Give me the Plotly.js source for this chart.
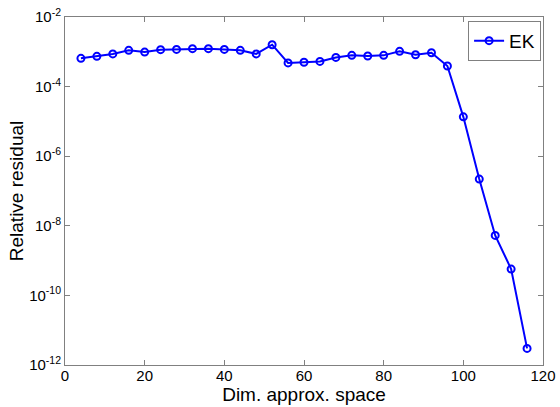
<!DOCTYPE html>
<html>
<head>
<meta charset="utf-8">
<script src="https://cdn.plot.ly/plotly-3.0.1.min.js"></script>
<style>html,body{margin:0;padding:0;background:#fff;}#chart{width:560px;height:407px;}</style>
</head>
<body>
<div id="chart"></div>
<script>
var dims = [4, 8, 12, 16, 20, 24, 28, 32, 36, 40, 44, 48, 52, 56, 60, 64, 68, 72, 76, 80, 84, 88, 92, 96, 100, 104, 108, 112, 116];
var residualEK = [6.5e-4, 7.4e-4, 8.7e-4, 1.1e-3, 9.8e-4, 1.15e-3, 1.17e-3, 1.23e-3, 1.23e-3, 1.17e-3, 1.1e-3, 8.7e-4, 1.6e-3,
  4.8e-4, 5.0e-4, 5.3e-4, 6.9e-4, 7.9e-4, 7.6e-4, 7.9e-4, 1.03e-3, 8.2e-4, 9.4e-4, 3.9e-4, 1.35e-5, 2.2e-7, 5.3e-9, 5.7e-10, 3.0e-12];
var yTickVals = [1e-12, 1e-10, 1e-8, 1e-6, 1e-4, 1e-2];
var yTickText = ['10<sup>-12</sup>', '10<sup>-10</sup>', '10<sup>-8</sup>', '10<sup>-6</sup>', '10<sup>-4</sup>', '10<sup>-2</sup>'];
var xTickVals = [0, 20, 40, 60, 80, 100, 120];

var trace = {
  x: dims, y: residualEK, name: 'EK', type: 'scatter', mode: 'lines+markers',
  line: {color: '#0000ff', width: 2},
  marker: {symbol: 'circle-open', size: 7, color: '#0000ff', line: {width: 2, color: '#0000ff'}}
};
var axisCommon = {
  showgrid: false, zeroline: false, showline: true, mirror: 'ticks',
  linecolor: '#808080', linewidth: 1, ticks: 'inside', ticklen: 5, tickcolor: '#808080',
  tickfont: {family: 'Liberation Sans, Arial, sans-serif', size: 15, color: '#000'}
};
var layout = {
  width: 560, height: 407,
  margin: {l: 65, r: 17, t: 17, b: 42},
  paper_bgcolor: '#fff', plot_bgcolor: '#fff',
  showlegend: true,
  font: {family: 'Liberation Sans, Arial, sans-serif', color: '#000'},
  xaxis: Object.assign({}, axisCommon, {
    range: [0, 120], tickvals: xTickVals, ticklabelstandoff: -3,
    title: {text: 'Dim. approx. space', font: {size: 19, color: '#000'}, standoff: 0}
  }),
  yaxis: Object.assign({}, axisCommon, {
    type: 'log', range: [-12, -2], tickvals: yTickVals, ticktext: yTickText,
    title: {text: 'Relative residual', font: {size: 19, color: '#000'}, standoff: 0}
  }),
  legend: {
    x: 0.996, y: 0.989, xanchor: 'right', yanchor: 'top',
    bgcolor: '#fff', bordercolor: '#808080', borderwidth: 1,
    font: {size: 19, color: '#000'}, itemwidth: 30, tracegroupgap: 0
  }
};
Plotly.newPlot('chart', [trace], layout, {displayModeBar: false, staticPlot: true});
</script>
</body>
</html>
